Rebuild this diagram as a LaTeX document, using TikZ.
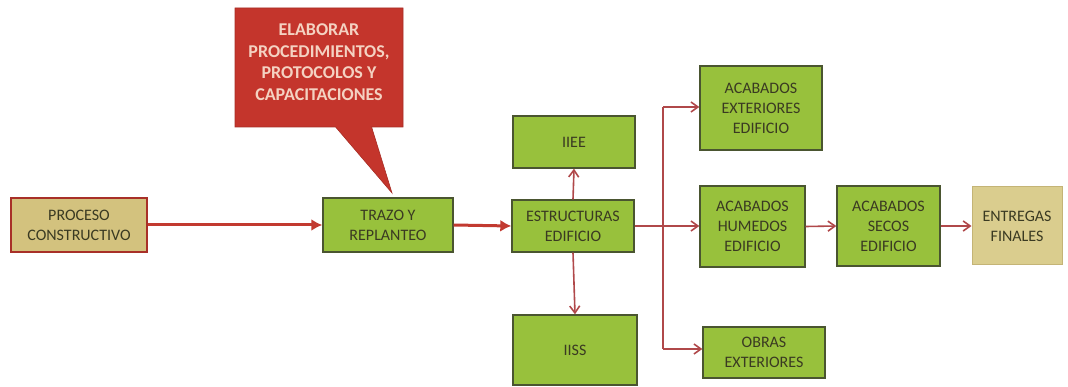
\documentclass[tikz,border=0pt]{standalone}
\usepackage{fontspec}
\setmainfont{Carlito}
\usetikzlibrary{arrows.meta,shapes.callouts}
\definecolor{boxgreen}{HTML}{98C13C}
\definecolor{greenedge}{HTML}{4A5530}
\definecolor{tanfill}{HTML}{D3C27E}
\definecolor{tanlight}{HTML}{DACD8E}
\definecolor{tanedge}{HTML}{C4B476}
\definecolor{redbox}{HTML}{A83028}
\definecolor{calloutred}{HTML}{C4352C}
\definecolor{callouttext}{HTML}{F4D2C2}
\definecolor{mainarrow}{HTML}{C23A30}
\definecolor{thinarrow}{HTML}{B0484A}
\definecolor{darktext}{HTML}{3A3A22}
\tikzset{
  gbox/.style={draw=greenedge, line width=1.4pt, fill=boxgreen, text=darktext,
    align=center, font=\fontsize{16}{20}\selectfont, inner sep=0pt},
  mainarr/.style={draw=mainarrow, line width=3pt, -{Latex[length=11pt,width=12pt]}},
  thinarr/.style={draw=thinarrow, line width=1.6pt, -{Straight Barb[length=7pt,width=10pt,line width=1.6pt]}},
  thinline/.style={draw=thinarrow, line width=1.6pt},
}
\begin{document}
\begin{tikzpicture}[x=1pt,y=-1pt]
\useasboundingbox (0,0) rectangle (1068,387);
% callout
\node[rectangle callout, callout absolute pointer={(392,193)}, callout pointer width=36pt,
  fill=calloutred, draw=calloutred!85!black, line width=0.6pt,
  minimum width=168pt, minimum height=119pt, inner sep=0pt]
  (callout) at (319,67.5) {};
\node[text=callouttext, align=center, font=\fontsize{18}{21.5}\selectfont\bfseries, inner sep=0pt]
  (callouttxt) at (319,62) {ELABORAR\\PROCEDIMIENTOS,\\PROTOCOLOS Y\\CAPACITACIONES};
% boxes
\node[draw=redbox, line width=1.4pt, fill=tanfill, text=darktext, align=center,
  font=\fontsize{16}{20}\selectfont, inner sep=0pt, minimum width=136pt, minimum height=54pt]
  (proc) at (79,225) {PROCESO\\CONSTRUCTIVO};
\node[gbox, minimum width=130pt, minimum height=54pt] (trazo) at (388,225) {TRAZO Y\\REPLANTEO};
\node[gbox, minimum width=122pt, minimum height=52pt] (estr) at (573,226) {ESTRUCTURAS\\EDIFICIO};
\node[gbox, minimum width=122pt, minimum height=52pt] (iiee) at (574,142) {IIEE};
\node[gbox, minimum width=124pt, minimum height=70pt] (iiss) at (575,350) {IISS};
\node[gbox, minimum width=122pt, minimum height=84pt] (acext) at (761,108) {ACABADOS\\EXTERIORES\\EDIFICIO};
\node[gbox, minimum width=105pt, minimum height=81pt] (achum) at (752.5,226.5) {ACABADOS\\HUMEDOS\\EDIFICIO};
\node[gbox, minimum width=122pt, minimum height=51pt] (obras) at (764,352.5) {OBRAS\\EXTERIORES};
\node[gbox, minimum width=103pt, minimum height=80pt] (acsec) at (888.5,226) {ACABADOS\\SECOS\\EDIFICIO};
\node[draw=tanedge, line width=1pt, fill=tanlight, text=darktext, align=center,
  font=\fontsize{16}{20}\selectfont, inner sep=0pt, minimum width=90pt, minimum height=78pt]
  (entr) at (1017,226) {ENTREGAS\\FINALES};
% connectors
\draw[mainarr] (proc.east) -- (trazo.west);
\draw[mainarr] (trazo.east) -- (estr.west);
\draw[thinarr] (estr.north) -- (iiee.south);
\draw[thinarr] (estr.south) -- (iiss.north);
\coordinate (jtop) at (663,107);
\coordinate (jbot) at (663,349);
\draw[thinline] (jtop) -- (jbot);
\draw[thinarr] (jtop) -- (acext.west |- jtop);
\draw[thinarr] (jbot) -- (obras.west |- jbot);
\draw[thinarr] (estr.east) -- (achum.west |- estr.east);
\draw[thinarr] (achum.east) -- (acsec.west);
\draw[thinarr] (acsec.east) -- (entr.west);
\end{tikzpicture}
\end{document}
